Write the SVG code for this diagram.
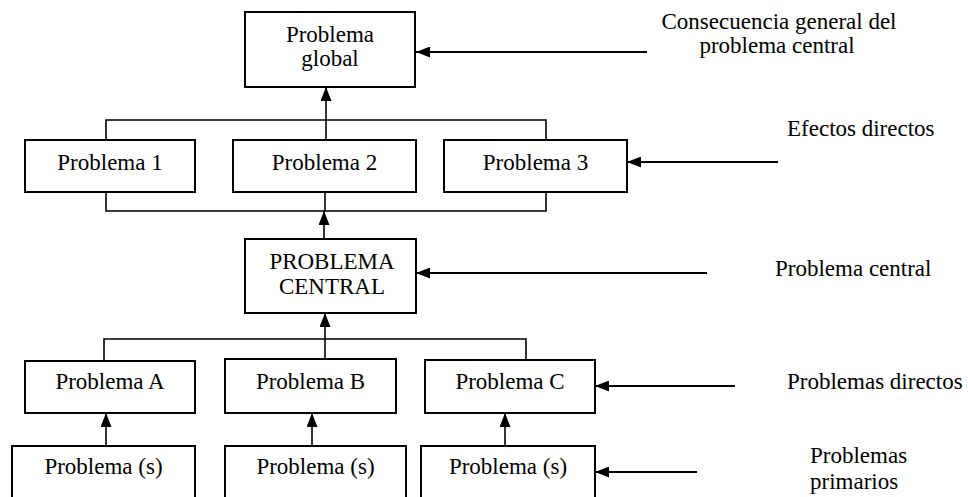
<svg xmlns="http://www.w3.org/2000/svg" width="968" height="497" viewBox="0 0 968 497">
<style>
.box{fill:#fff;stroke:#000;stroke-width:2}
.t{font-family:"Liberation Serif","Times New Roman",serif;font-size:23px;fill:#000;text-anchor:middle}
.l{font-family:"Liberation Serif","Times New Roman",serif;font-size:23px;fill:#000}
.ln{fill:none;stroke:#000;stroke-width:1.6}
.ar{fill:none;stroke:#000;stroke-width:2.2}
</style>
<defs>
<marker id="ah" markerUnits="userSpaceOnUse" markerWidth="14" markerHeight="11" refX="14" refY="5.5" orient="auto">
<path d="M0,0 L14,5.5 L0,11 z" fill="#000"/>
</marker>
</defs>
<rect width="968" height="497" fill="#fff"/>

<g id="connectors">
<!-- effects brackets -->
<path class="ln" d="M106,140 V120 H546 V140"/>
<path class="ln" d="M106,192 V211 H546 V192"/>
<path class="ln" d="M325,192 V211"/>
<path class="ln" d="M326,140 V87" marker-end="url(#ah)"/>
<path class="ln" d="M324,239 V211" marker-end="url(#ah)"/>
<!-- causes bracket -->
<path class="ln" d="M104,361 V339 H526 V360"/>
<path class="ln" d="M325,359 V313" marker-end="url(#ah)"/>
<path class="ln" d="M106,446 V413" marker-end="url(#ah)"/>
<path class="ln" d="M312,446 V413" marker-end="url(#ah)"/>
<path class="ln" d="M505,446 V413" marker-end="url(#ah)"/>
<!-- side arrows -->
<path class="ar" d="M647,52 H416" marker-end="url(#ah)"/>
<path class="ar" d="M778,162 H627" marker-end="url(#ah)"/>
<path class="ar" d="M707,273 H416" marker-end="url(#ah)"/>
<path class="ar" d="M735,386 H595" marker-end="url(#ah)"/>
<path class="ar" d="M697,472 H595" marker-end="url(#ah)"/>
</g>

<g id="global">
<rect class="box" x="245" y="12" width="170" height="75"/>
<text class="t" x="330" y="41.5">Problema</text>
<text class="t" x="330" y="66">global</text>
</g>
<g id="p1">
<rect class="box" x="25" y="140" width="170" height="52"/>
<text class="t" x="110" y="170">Problema 1</text>
</g>
<g id="p2">
<rect class="box" x="233" y="140" width="183" height="52"/>
<text class="t" x="324.5" y="170">Problema 2</text>
</g>
<g id="p3">
<rect class="box" x="444" y="140" width="183" height="52"/>
<text class="t" x="535.5" y="170">Problema 3</text>
</g>
<g id="central">
<rect class="box" x="245" y="239" width="171" height="74"/>
<text class="t" x="332" y="269">PROBLEMA</text>
<text class="t" x="332" y="294">CENTRAL</text>
</g>
<g id="pa">
<rect class="box" x="25" y="361" width="170" height="52"/>
<text class="t" x="110" y="389">Problema A</text>
</g>
<g id="pb">
<rect class="box" x="225" y="359" width="171" height="54"/>
<text class="t" x="310.5" y="389">Problema B</text>
</g>
<g id="pc">
<rect class="box" x="425" y="360" width="170" height="53"/>
<text class="t" x="510" y="389">Problema C</text>
</g>
<g id="ps1">
<rect class="box" x="12" y="446" width="183" height="60"/>
<text class="t" x="103.5" y="474">Problema (s)</text>
</g>
<g id="ps2">
<rect class="box" x="225" y="446" width="181" height="60"/>
<text class="t" x="315.5" y="474">Problema (s)</text>
</g>
<g id="ps3">
<rect class="box" x="421" y="446" width="174" height="60"/>
<text class="t" x="508" y="474">Problema (s)</text>
</g>

<g id="labels">
<text class="t" x="779" y="29">Consecuencia general del</text>
<text class="t" x="777" y="53">problema central</text>
<text class="l" x="787" y="136">Efectos directos</text>
<text class="l" x="775" y="276">Problema central</text>
<text class="l" x="787" y="389">Problemas directos</text>
<text class="l" x="810" y="463">Problemas</text>
<text class="l" x="810" y="489">primarios</text>
</g>
</svg>
